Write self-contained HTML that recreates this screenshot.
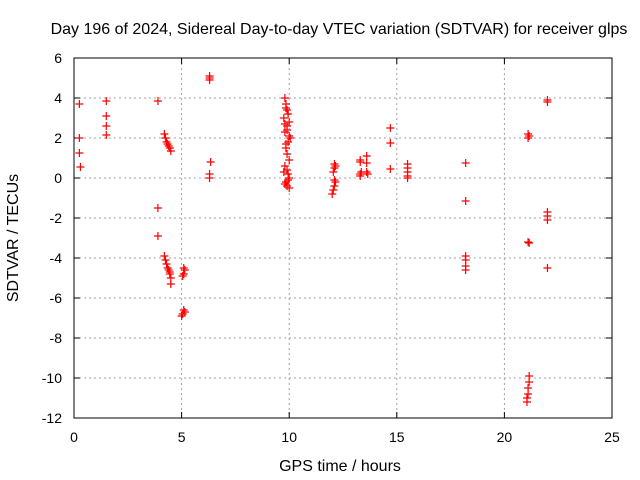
<!DOCTYPE html>
<html><head><meta charset="utf-8"><style>
body{margin:0;background:#fff;}
svg{display:block;font-family:"Liberation Sans",sans-serif;}
</style></head><body>
<svg id="chart" width="640" height="480">
<text x="339" y="34" text-anchor="middle" font-size="16">Day 196 of 2024, Sidereal Day-to-day VTEC variation (SDTVAR) for receiver glps</text>
<text x="340" y="471" text-anchor="middle" font-size="16">GPS time / hours</text>
<text x="18" y="238" text-anchor="middle" font-size="16" transform="rotate(-90 18 238)">SDTVAR / TECUs</text>
<g id="grid"></g><g id="ticks"></g><g id="points"></g>
<rect x="74" y="58" width="538" height="360" fill="none" stroke="#000" stroke-width="1"/>
</svg>
<script>
const xTicks=[0,5,10,15,20,25];
const yTicks=[6,4,2,0,-2,-4,-6,-8,-10,-12];
const hours=[0.25,0.25,0.25,0.3,1.5,1.5,1.5,1.5,3.9,3.9,3.9,
4.2,4.25,4.3,4.35,4.4,4.45,4.5,4.2,4.25,4.3,4.35,4.4,4.45,4.45,4.5,4.5,
5.1,5.15,5.1,5.05,5.1,5.15,5.05,5.0,
6.3,6.3,6.3,6.35,6.3,6.3,
9.8,9.85,9.9,9.75,10.0,9.9,9.8,10.05,9.95,9.85,9.9,10.0,9.8,9.9,9.95,10.0,9.85,9.8,9.9,10.0,9.85,9.95,9.8,9.9,10.0,9.85,9.75,9.95,
12.1,12.15,12.1,12.05,12.1,12.15,12.1,12.05,12.0,
13.3,13.3,13.35,13.3,13.3,13.6,13.6,13.6,13.65,
14.7,14.7,14.7,
15.5,15.5,15.5,15.5,15.5,
18.2,18.2,18.2,18.2,18.2,18.2,
21.1,21.15,21.1,21.1,21.15,21.15,21.15,21.1,21.1,21.05,21.05,
22.0,22.0,22.0,22.0,22.0,22.0];
const values=[3.7,2.0,1.25,0.55,3.85,3.1,2.6,2.15,3.85,-1.5,-2.9,
2.2,2.0,1.8,1.7,1.6,1.5,1.35,-3.9,-4.1,-4.3,-4.5,-4.6,-4.7,-4.8,-5.0,-5.3,
-4.5,-4.6,-4.8,-4.9,-6.6,-6.7,-6.8,-6.9,
5.1,5.0,4.9,0.8,0.2,0.0,
4.0,3.7,3.4,3.0,2.8,2.6,2.3,2.0,1.8,1.5,1.2,0.9,0.6,0.4,0.2,0.0,-0.2,-0.3,-0.4,-0.5,3.5,3.2,2.7,2.4,2.1,1.7,0.3,-0.1,
0.7,0.6,0.5,0.3,-0.1,-0.2,-0.4,-0.6,-0.8,
0.9,0.8,0.3,0.2,0.1,1.1,0.75,0.3,0.2,
2.5,1.75,0.45,
0.7,0.5,0.3,0.1,0.0,
0.75,-1.15,-3.9,-4.1,-4.4,-4.6,
2.2,2.1,2.0,-3.2,-3.25,-9.9,-10.2,-10.5,-10.8,-11.0,-11.2,
3.9,3.8,-1.7,-1.9,-2.1,-4.5];
const X=h=>74+h/25*538;
const Y=v=>58+(6-v)/18*360;
const NS="http://www.w3.org/2000/svg";
function mk(t,a,p){const e=document.createElementNS(NS,t);for(const k in a)e.setAttribute(k,a[k]);p.appendChild(e);return e;}
const grid=document.getElementById('grid'),ticks=document.getElementById('ticks'),pts=document.getElementById('points');
xTicks.forEach(t=>{const x=X(t);
 if(t>0&&t<25){const g=mk('line',{x1:x,x2:x,y1:58,y2:418,stroke:'#a0a0a0','stroke-dasharray':'2,3'},grid);
 
 }
 mk('line',{x1:x,x2:x,y1:418,y2:412,stroke:'#000'},ticks);mk('line',{x1:x,x2:x,y1:58,y2:64,stroke:'#000'},ticks);
 const l=mk('text',{x:x,y:442,'text-anchor':'middle','font-size':14},ticks);l.textContent=t;
 
 });
yTicks.forEach(t=>{const y=Y(t);
 if(t<6&&t>-12){const g=mk('line',{x1:74,x2:612,y1:y,y2:y,stroke:'#a0a0a0','stroke-dasharray':'2,3'},grid);
 
 }
 mk('line',{x1:74,x2:80,y1:y,y2:y,stroke:'#000'},ticks);mk('line',{x1:612,x2:606,y1:y,y2:y,stroke:'#000'},ticks);
 const l=mk('text',{x:62,y:y+5,'text-anchor':'end','font-size':14},ticks);l.textContent=t;
 
 });
hours.forEach((h,i)=>{const x=X(h),y=Y(values[i]);
 const p=mk('path',{d:`M${x-4},${y}H${x+4}M${x},${y-4}V${y+4}`,stroke:'#f00','stroke-width':1.2,fill:'none'},pts);
 
 });
</script>
</body></html>
